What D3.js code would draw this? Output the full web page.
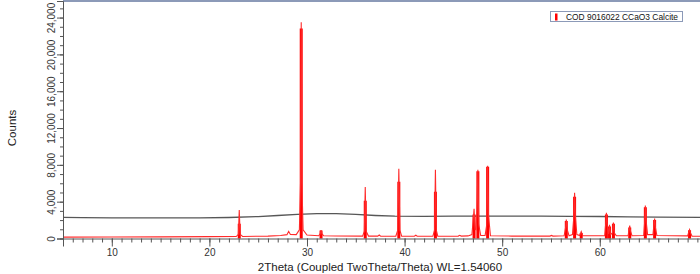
<!DOCTYPE html>
<html>
<head>
<meta charset="utf-8">
<script src="https://cdn.jsdelivr.net/npm/d3@7"></script>
<style>
html,body{margin:0;padding:0;background:#fff;}
svg{display:block;font-family:"Liberation Sans",Arial,sans-serif;}
</style>
</head>
<body>
<svg id="chart" width="700" height="274"></svg>
<script>
// ---- data ----
const xMajorTicks = [10, 20, 30, 40, 50, 60];
const yMajorTicks = [0, 4000, 8000, 12000, 16000, 20000, 24000];
const xTitle = "2Theta (Coupled TwoTheta/Theta) WL=1.54060";
const yTitle = "Counts";
const legendLabel = "COD 9016022 CCaO3 Calcite";

// measured background (black line): [2theta, counts]
const backgroundScan = [
  [4.9,2290],[7,2270],[10,2250],[13,2230],[16,2230],[19,2250],[22,2280],[25,2380],
  [27,2500],[29,2620],[31,2700],[33,2710],[35,2620],[37,2500],[39,2420],[42,2410],
  [45,2430],[48,2440],[51,2430],[54,2420],[57,2400],[60,2390],[63,2360],[66,2330],[70.3,2300]
];

// calcite scan (red line): [2theta, counts]
const calciteScan = [
  [4.9,150],[10,170],[15,180],[20,200],[22.75,210],[22.97,450],[23.06,3100],[23.15,450],[23.4,220],
  [26,260],[27.3,330],[27.95,420],[28.12,780],[28.3,430],[28.9,420],[29.22,950],[29.34,6000],
  [29.41,23500],[29.48,6000],[29.6,950],[30,380],[31.2,300],[31.35,500],[31.44,900],[31.53,500],
  [31.7,300],[33,270],[35.7,260],[35.88,800],[35.97,5600],[36.06,800],[36.3,260],[37.25,260],
  [37.4,380],[37.55,260],[39.1,250],[39.3,900],[39.41,7570],[39.52,900],[39.7,250],[41,250],
  [41.15,360],[41.3,250],[42.9,250],[43.07,900],[43.16,7460],[43.25,900],[43.4,250],[45.5,260],
  [45.65,340],[45.8,260],[46.5,280],[46.9,420],[47.03,2000],[47.12,3240],[47.22,1000],[47.32,950],
  [47.42,3000],[47.51,7460],[47.6,1500],[47.8,320],[48.25,320],[48.42,1500],[48.51,7900],[48.6,2500],
  [48.8,300],[51,260],[54.9,260],[55.05,330],[55.2,260],[56.35,300],[56.5,1200],[56.57,2050],
  [56.68,900],[56.85,300],[57.2,420],[57.35,2500],[57.42,4970],[57.5,2500],[57.65,420],[57.95,320],
  [58.1,750],[58.25,300],[60.5,300],[60.62,1800],[60.68,2800],[60.76,1400],[60.9,500],[61.0,1500],
  [61.1,420],[61.3,600],[61.4,1730],[61.5,600],[61.7,300],[62.9,300],[63.0,900],[63.07,1400],
  [63.15,800],[63.3,300],[64.5,320],[64.6,1800],[64.67,3570],[64.76,1800],[64.9,420],[65.45,420],
  [65.55,1500],[65.62,2160],[65.7,1200],[65.85,330],[69.0,280],[69.12,700],[69.2,970],[69.3,600],
  [69.45,260],[70.3,250]
];

// reference pattern sticks (thick red bars): [2theta, counts]
const calciteSticks = [
  [23.06,1600],[29.41,22800],[31.44,860],[35.97,4100],[39.41,6160],[43.16,5080],[47.12,2600],
  [47.51,7300],[48.51,7800],[56.57,1900],[57.42,4540],[58.10,600],[60.68,2600],[61.0,1300],
  [61.4,1600],[63.07,1200],[64.67,3400],[65.62,2000],[69.2,900]
];

// ---- drawing ----
const svg = d3.select("#chart");
const x = d3.scaleLinear().domain([5, 70.27]).range([63, 700]);
const y = d3.scaleLinear().domain([0, 25800]).range([238.5, 1]);

const plotTop = 1, plotBottom = 238.5, plotLeft = 63, plotRight = 700;

// top border
svg.append("line").attr("x1", plotLeft).attr("x2", plotRight)
  .attr("y1", 1).attr("y2", 1).attr("stroke", "#8c9ab8").attr("stroke-width", 2);

svg.append("defs").append("clipPath").attr("id","plotclip")
  .append("rect").attr("x", plotLeft).attr("y", 0).attr("width", plotRight-plotLeft).attr("height", plotBottom+1);

const plot = svg.append("g").attr("clip-path","url(#plotclip)");

const line = d3.line().x(d => x(d[0])).y(d => y(d[1]));

// background
plot.append("path").datum(backgroundScan).attr("d", line)
  .attr("fill","none").attr("stroke","#3a3a3a").attr("stroke-width",1.3).attr("opacity",0.85);

// sticks
plot.selectAll("line.stick").data(calciteSticks).enter().append("line")
  .attr("class","stick")
  .attr("x1", d => x(d[0])).attr("x2", d => x(d[0]))
  .attr("y1", y(0)).attr("y2", d => y(d[1]))
  .attr("stroke","#ff0000").attr("stroke-width",3);

// red scan
plot.append("path").datum(calciteScan).attr("d", line)
  .attr("fill","none").attr("stroke","#ff2a2a").attr("stroke-width",1.1);

// x axis
const xMinor = d3.range(5, 71, 1);
const xAxisMinor = d3.axisBottom(x).tickValues(xMinor).tickSize(4).tickFormat("");
const xAxisMajor = d3.axisBottom(x).tickValues(xMajorTicks).tickSize(8).tickFormat(d3.format("d"));
const gxMinor = svg.append("g").attr("transform",`translate(0,${plotBottom})`).call(xAxisMinor);
const gx = svg.append("g").attr("transform",`translate(0,${plotBottom})`).call(xAxisMajor);
[gxMinor, gx].forEach(g => {
  g.select(".domain").attr("stroke","#555");
  g.selectAll(".tick line").attr("stroke","#555");
});
gxMinor.select(".domain").remove();
gx.selectAll(".tick text").attr("fill","#333").attr("font-size","10px")
  .attr("font-family","Liberation Sans, Arial, sans-serif").attr("y",10);

// y axis
const yMinor = d3.range(0, 25001, 1000);
const yAxisMinor = d3.axisLeft(y).tickValues(yMinor).tickSize(3).tickFormat("");
const yAxisMajor = d3.axisLeft(y).tickValues(yMajorTicks).tickSize(6).tickFormat(d3.format(","));
const gyMinor = svg.append("g").attr("transform",`translate(${plotLeft},0)`).call(yAxisMinor);
const gy = svg.append("g").attr("transform",`translate(${plotLeft},0)`).call(yAxisMajor);
[gyMinor, gy].forEach(g => {
  g.selectAll(".tick line").attr("stroke","#555");
});
gyMinor.select(".domain").remove();
gy.select(".domain").attr("stroke","#555");
gy.selectAll(".tick text")
  .attr("fill","#333").attr("font-size","10px")
  .attr("font-family","Liberation Sans, Arial, sans-serif")
  .attr("x", null).attr("dy", null)
  .attr("text-anchor","middle")
  .attr("transform","translate(-8,0) rotate(-90)");

// axis titles
svg.append("text").attr("x", 380).attr("y", 271)
  .attr("text-anchor","middle").attr("font-size","11.5px").attr("fill","#222")
  .text(xTitle);
svg.append("text").attr("transform","translate(16,128) rotate(-90)")
  .attr("text-anchor","middle").attr("font-size","11.5px").attr("fill","#222")
  .text(yTitle);

// legend
const lg = svg.append("g");
lg.append("rect").attr("x",550.5).attr("y",11.5).attr("width",132).attr("height",10)
  .attr("fill","#fff").attr("stroke","#8c9ab8").attr("stroke-width",1);
lg.append("rect").attr("x",555).attr("y",13.5).attr("width",2.5).attr("height",7).attr("fill","#ff0000");
lg.append("text").attr("x",566).attr("y",20).attr("font-size","9.5px").attr("fill","#111")
  .attr("textLength",112).attr("lengthAdjust","spacingAndGlyphs")
  .text(legendLabel);
</script>
</body>
</html>
